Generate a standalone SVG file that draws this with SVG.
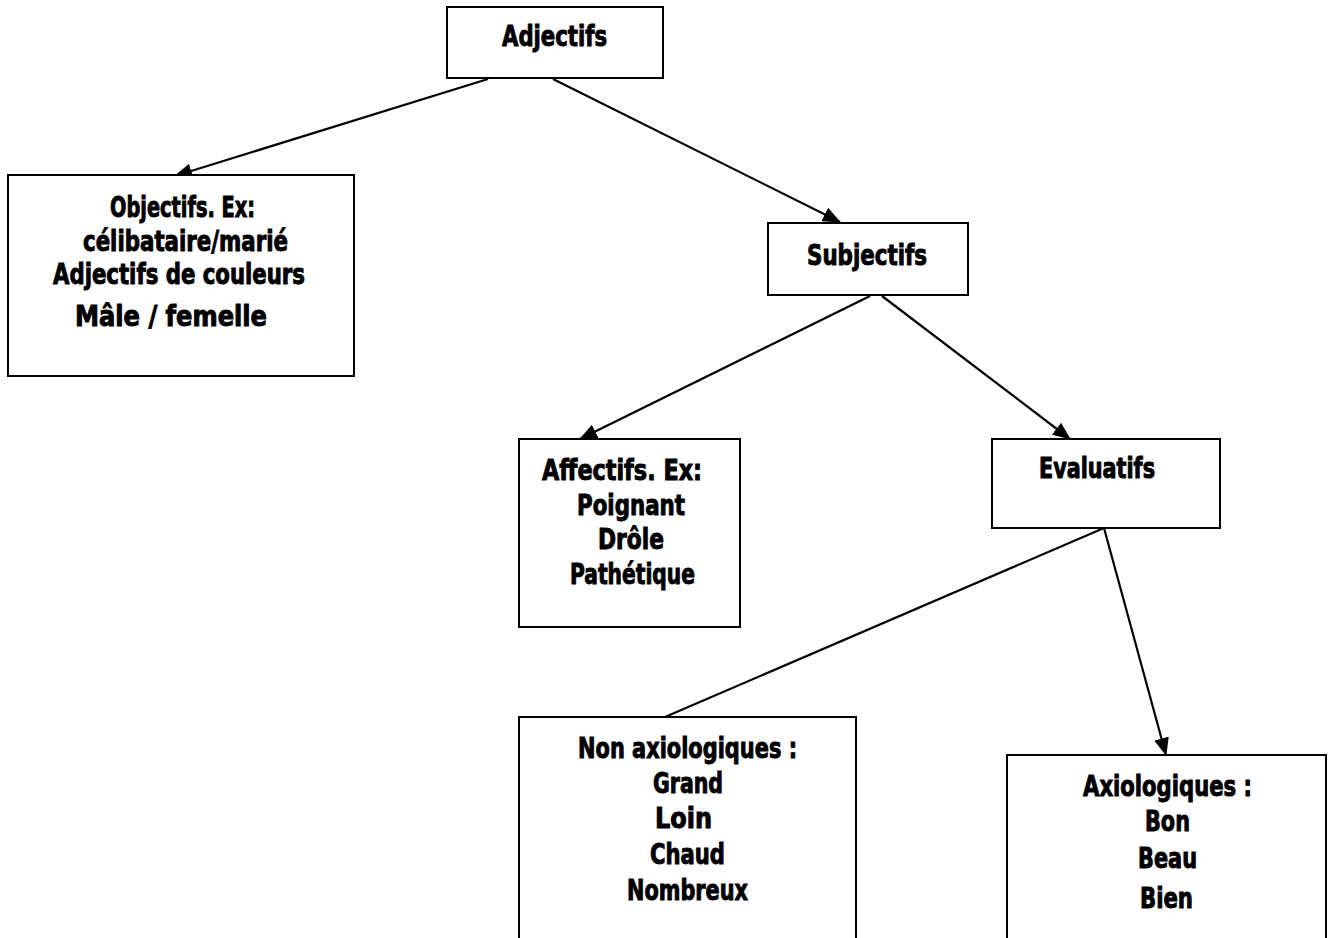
<svg xmlns="http://www.w3.org/2000/svg" width="1328" height="938" viewBox="0 0 1328 938">
<style>
.box{fill:#fff;stroke:#000;stroke-width:2}
.t{font-family:"DejaVu Sans Condensed","DejaVu Sans",sans-serif;font-weight:bold;font-size:28px;fill:#000;stroke:#000;stroke-width:0.9}
.c{stroke:#000;stroke-width:2.2;fill:none}
</style>
<defs>
<marker id="ah" viewBox="0 0 18 15" refX="17" refY="7.5" markerUnits="userSpaceOnUse" markerWidth="18" markerHeight="15" orient="auto">
<path d="M0,0 L18,7.5 L0,15 z" fill="#000"/>
</marker>
</defs>
<rect width="1328" height="938" fill="#fff"/>
<g id="connectors">
<line class="c" x1="488" y1="79" x2="175" y2="176" marker-end="url(#ah)"/>
<line class="c" x1="553" y1="79" x2="840" y2="222" marker-end="url(#ah)"/>
<line class="c" x1="870" y1="296" x2="580" y2="439" marker-end="url(#ah)"/>
<line class="c" x1="882" y1="296" x2="1070" y2="439" marker-end="url(#ah)"/>
<line class="c" x1="1104" y1="528" x2="665" y2="717"/>
<line class="c" x1="1104" y1="528" x2="1166" y2="755" marker-end="url(#ah)"/>
</g>
<g id="adjectifs">
<rect class="box" x="447" y="7" width="216" height="71"/>
<text class="t" x="502" y="46" textLength="105" lengthAdjust="spacingAndGlyphs">Adjectifs</text>
</g>
<g id="objectifs">
<rect class="box" x="8" y="175" width="346" height="201"/>
<text class="t" x="110" y="217" textLength="145" lengthAdjust="spacingAndGlyphs">Objectifs. Ex:</text>
<text class="t" x="83" y="251" textLength="205" lengthAdjust="spacingAndGlyphs">célibataire/marié</text>
<text class="t" x="53" y="284" textLength="252" lengthAdjust="spacingAndGlyphs">Adjectifs de couleurs</text>
<text class="t" x="75" y="326" textLength="192" lengthAdjust="spacingAndGlyphs">Mâle / femelle</text>
</g>
<g id="subjectifs">
<rect class="box" x="768" y="223" width="200" height="72"/>
<text class="t" x="807" y="265" textLength="120" lengthAdjust="spacingAndGlyphs">Subjectifs</text>
</g>
<g id="affectifs">
<rect class="box" x="519" y="439" width="221" height="188"/>
<text class="t" x="542" y="480" textLength="160" lengthAdjust="spacingAndGlyphs">Affectifs. Ex:</text>
<text class="t" x="577" y="515" textLength="108" lengthAdjust="spacingAndGlyphs">Poignant</text>
<text class="t" x="598" y="549" textLength="66" lengthAdjust="spacingAndGlyphs">Drôle</text>
<text class="t" x="570" y="584" textLength="125" lengthAdjust="spacingAndGlyphs">Pathétique</text>
</g>
<g id="evaluatifs">
<rect class="box" x="992" y="439" width="228" height="89"/>
<text class="t" x="1039" y="478" textLength="116" lengthAdjust="spacingAndGlyphs">Evaluatifs</text>
</g>
<g id="non-axiologiques">
<rect class="box" x="519" y="717" width="337" height="240"/>
<text class="t" x="578" y="758" textLength="219" lengthAdjust="spacingAndGlyphs">Non axiologiques :</text>
<text class="t" x="653" y="793" textLength="70" lengthAdjust="spacingAndGlyphs">Grand</text>
<text class="t" x="655" y="828" textLength="57" lengthAdjust="spacingAndGlyphs">Loin</text>
<text class="t" x="650" y="864" textLength="75" lengthAdjust="spacingAndGlyphs">Chaud</text>
<text class="t" x="627" y="900" textLength="121" lengthAdjust="spacingAndGlyphs">Nombreux</text>
</g>
<g id="axiologiques">
<rect class="box" x="1007" y="755" width="319" height="200"/>
<text class="t" x="1083" y="796" textLength="169" lengthAdjust="spacingAndGlyphs">Axiologiques :</text>
<text class="t" x="1145" y="831" textLength="45" lengthAdjust="spacingAndGlyphs">Bon</text>
<text class="t" x="1138" y="868" textLength="59" lengthAdjust="spacingAndGlyphs">Beau</text>
<text class="t" x="1140" y="908" textLength="53" lengthAdjust="spacingAndGlyphs">Bien</text>
</g>
</svg>
